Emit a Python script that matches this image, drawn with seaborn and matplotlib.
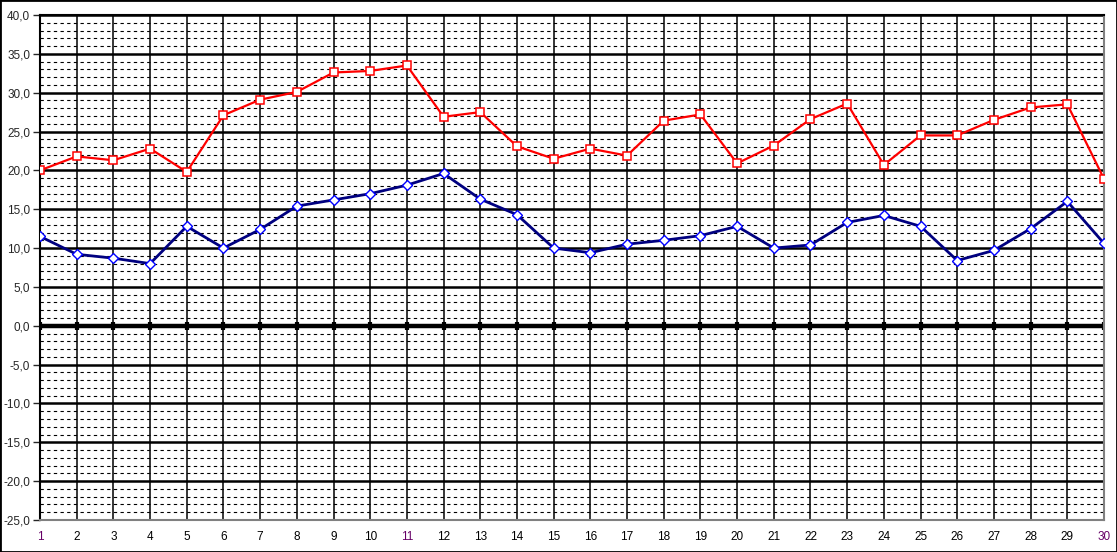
import numpy as np
import pandas as pd
import matplotlib
matplotlib.use("Agg")
import matplotlib.pyplot as plt
import seaborn as sns
from matplotlib.ticker import MultipleLocator, FuncFormatter

# Data
days = list(range(1, 31))
red_vals = [20.0, 21.8, 21.3, 22.8, 19.8, 27.1, 29.1, 30.1, 32.6, 32.8,
            33.5, 26.9, 27.5, 23.1, 21.5, 22.8, 21.9, 26.4, 27.2, 20.9,
            23.2, 26.6, 28.6, 20.7, 24.5, 24.5, 26.5, 28.1, 28.5, 18.9]
blue_vals = [11.5, 9.2, 8.7, 8.0, 12.8, 10.0, 12.4, 15.4, 16.2, 17.0,
             18.1, 19.6, 16.3, 14.3, 10.0, 9.4, 10.5, 11.0, 11.6, 12.8,
             10.0, 10.4, 13.3, 14.2, 12.8, 8.4, 9.7, 12.5, 16.0, 10.6]
purple_days = [1, 11, 30]

df = pd.DataFrame({"day": days, "red": red_vals, "blue": blue_vals})

sns.set_style("white")
plt.rcParams["font.family"] = ["Liberation Sans", "DejaVu Sans"]

fig = plt.figure(figsize=(11.17, 5.52), dpi=100)
ax = fig.add_axes([40 / 1117, 32 / 552, 1064 / 1117, 505 / 552])

# grid
for v in range(-25, 41):
    if v % 5 == 0:
        continue
    ax.axhline(v, color="black", lw=0.8, ls=(0, (3, 3)), zorder=1)
for v in range(-25, 41, 5):
    ax.axhline(v, color="black", lw=1.8, zorder=1.2)
for d in days:
    ax.axvline(d, color="black", lw=1.1, zorder=1.1)
ax.axhline(0, color="black", lw=3.2, zorder=1.5)
ax.plot(days, [0] * len(days), ls="none", marker="|", ms=6, mew=3,
        color="black", zorder=1.6)

sns.lineplot(data=df, x="day", y="red", ax=ax, color="#ff0000", lw=1.6,
             marker="s", markersize=5.5, markerfacecolor="white",
             markeredgecolor="#ff0000", markeredgewidth=1.1, zorder=3)
sns.lineplot(data=df, x="day", y="blue", ax=ax, color="#000080", lw=2.0,
             marker="D", markersize=4.8, markerfacecolor="white",
             markeredgecolor="#0000ff", markeredgewidth=1.0, zorder=3)

ax.set_xlim(1, 30)
ax.set_ylim(-25, 40)
ax.set_xticks(days)
ax.set_xticklabels([str(d) for d in days])
ax.yaxis.set_major_locator(MultipleLocator(5))
ax.yaxis.set_major_formatter(FuncFormatter(lambda v, p: f"{v:.1f}".replace(".", ",")))
ax.set_xlabel("")
ax.set_ylabel("")
ax.tick_params(axis="y", length=5, width=1, direction="out", labelsize=8.5,
               pad=2, left=True)
ax.tick_params(axis="x", length=0, labelsize=8.5, pad=8)
for lbl, d in zip(ax.get_xticklabels(), days):
    lbl.set_color("#660066" if d in purple_days else "black")

for s in ["left", "top"]:
    ax.spines[s].set_color("black")
    ax.spines[s].set_linewidth(1.5)
for s in ["right", "bottom"]:
    ax.spines[s].set_color("#808080")
    ax.spines[s].set_linewidth(1.5)

fig.patches.append(plt.Rectangle((0, 0), 1, 1, transform=fig.transFigure,
                                 fill=False, edgecolor="black", lw=2))

fig.savefig("out.png", dpi=100)
